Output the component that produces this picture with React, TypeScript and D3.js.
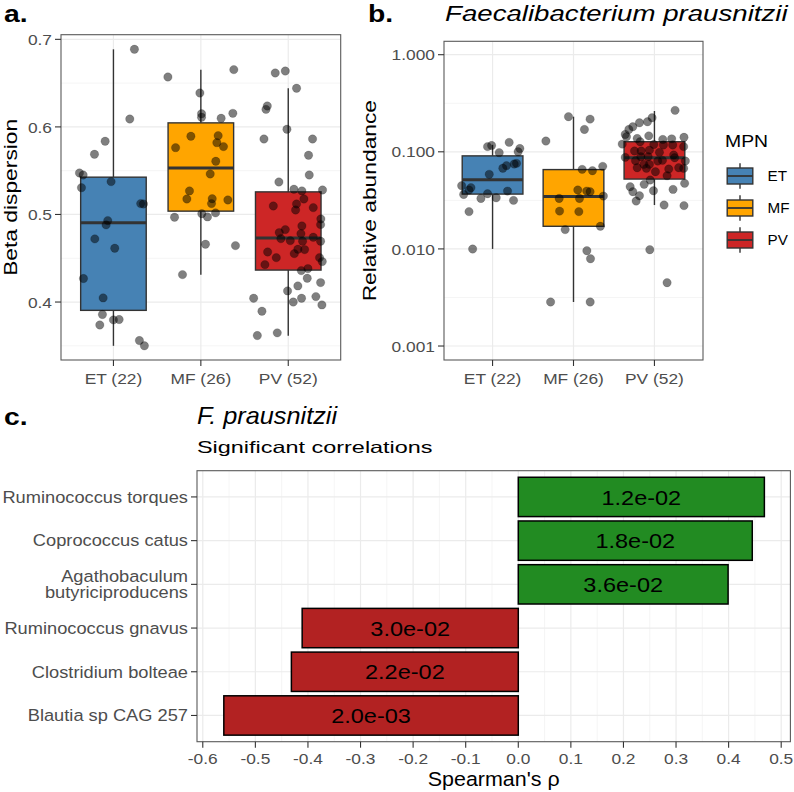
import React from "react";
import * as d3 from "d3";

// ---------- data ----------
const groups = ["ET", "MF", "PV"];
const groupLabels = ["ET (22)", "MF (26)", "PV (52)"];
const groupColors = ["#4682B4", "#FFA500", "#CD2626"];

// panel a: beta dispersion box stats [low, q1, median, q3, high]
const betaStats = [
  [0.35, 0.3905, 0.4904, 0.5426, 0.6886],
  [0.4313, 0.5038, 0.5532, 0.6046, 0.6654],
  [0.3615, 0.4365, 0.473, 0.5258, 0.6441],
];
// points: [jitter (category units), value]
const betaET = [
  [0.24, 0.6886], [0.187, 0.609], [-0.095, 0.5836], [-0.217, 0.5687], [-0.389, 0.5474], [-0.347, 0.5451],
  [-0.366, 0.5306], [-0.027, 0.5375], [0.312, 0.5124], [0.343, 0.512], [-0.065, 0.493], [-0.084, 0.4881],
  [-0.213, 0.4721], [0.015, 0.4614], [-0.343, 0.4268], [-0.118, 0.4047], [-0.126, 0.3857], [-0.156, 0.3738],
  [0, 0.3796], [0.065, 0.38], [0.297, 0.356], [0.354, 0.35],
];
const betaMF = [
  [-0.377, 0.657], [0.377, 0.6654], [-0.011, 0.6387], [0.008, 0.615], [0.008, 0.611], [0.232, 0.6098],
  [0.366, 0.6155], [-0.289, 0.5763], [-0.114, 0.5893], [0.198, 0.59], [0.183, 0.582], [0.259, 0.5775],
  [0.171, 0.5607], [0.107, 0.5463], [-0.13, 0.5269], [-0.16, 0.5177], [0.13, 0.518], [0.122, 0.5124],
  [0.309, 0.5166], [-0.301, 0.4968], [0.011, 0.5009], [0.076, 0.4972], [0.168, 0.5018], [0.053, 0.466],
  [0.396, 0.4644], [-0.21, 0.4313],
];
const betaPV = [
  [-0.149, 0.6616], [-0.034, 0.6638], [0.095, 0.6441], [-0.24, 0.6239], [-0.255, 0.62], [-0.015, 0.5973],
  [-0.278, 0.5862], [0.278, 0.5862], [0.232, 0.5676], [0.24, 0.5451], [-0.107, 0.5371], [0.065, 0.5288],
  [0.156, 0.5269], [0.392, 0.528], [-0.171, 0.5097], [0.095, 0.512], [0.179, 0.5177], [0.084, 0.5051],
  [0.286, 0.5078], [0.373, 0.4949], [0.37, 0.4884], [0.156, 0.4869], [-0.034, 0.4827], [-0.103, 0.4793],
  [0.145, 0.4781], [-0.084, 0.4724], [0.023, 0.4701], [0.164, 0.4694], [0.286, 0.474], [0.37, 0.4694],
  [0.11, 0.4603], [0.187, 0.4599], [-0.236, 0.4572], [0.069, 0.4553], [-0.137, 0.4507], [0.358, 0.4507],
  [-0.267, 0.4427], [0.389, 0.4462], [0.225, 0.4382], [0.149, 0.4359], [0.217, 0.4271], [0.37, 0.4222],
  [0.11, 0.4184], [-0.008, 0.4127], [-0.396, 0.4043], [0.057, 0.4], [0.152, 0.4043], [0.316, 0.4062],
  [0.385, 0.3967], [-0.301, 0.3895], [-0.354, 0.3617], [-0.126, 0.3648],
];
const betaTicks = [0.4, 0.5, 0.6, 0.7];
const betaMinor = [0.35, 0.45, 0.55, 0.65];

// panel b: relative abundance (log scale)
const abundStats = [
  [0.01, 0.0367, 0.0514, 0.0908, 0.118],
  [0.00284, 0.0171, 0.0346, 0.0656, 0.23],
  [0.0283, 0.0524, 0.0869, 0.127, 0.263],
];
const abundET = [
  [-0.062, 0.113], [-0.012, 0.116], [0.205, 0.125], [0.082, 0.098], [0.337, 0.108], [0.316, 0.1],
  [0.296, 0.076], [0.267, 0.0748], [0.172, 0.072], [0.127, 0.0676], [-0.041, 0.0586], [-0.382, 0.0448],
  [-0.267, 0.0427], [-0.291, 0.0404], [-0.357, 0.0364], [-0.062, 0.037], [0.185, 0.0394], [-0.144, 0.0331],
  [0.045, 0.0336], [0.259, 0.0316], [-0.291, 0.0242], [-0.246, 0.00997],
];
const abundMF = [
  [-0.062, 0.23], [0.205, 0.217], [0.135, 0.17], [-0.341, 0.129], [0.361, 0.0708], [0.107, 0.0659],
  [0.234, 0.0639], [0.053, 0.0404], [0.164, 0.0394], [0.205, 0.0388], [-0.177, 0.0331], [0.074, 0.0331],
  [0.369, 0.035], [-0.172, 0.0245], [0.066, 0.0242], [0.332, 0.0171], [-0.103, 0.0158], [0.165, 0.00958],
  [0.21, 0.00792], [-0.283, 0.00284], [0.206, 0.00284],
];
const abundPV = [
  [0.255, 0.267], [-0.029, 0.224], [-0.086, 0.204], [-0.185, 0.199], [-0.267, 0.181], [-0.316, 0.17],
  [-0.361, 0.151], [-0.345, 0.143], [-0.213, 0.137], [-0.07, 0.146], [0.103, 0.134], [0.213, 0.136],
  [0.365, 0.141], [-0.398, 0.12], [-0.177, 0.127], [-0.008, 0.119], [0.111, 0.1175], [0.226, 0.1175],
  [0.361, 0.113], [-0.246, 0.102], [-0.164, 0.102], [-0.062, 0.104], [0.062, 0.0987], [0.238, 0.0926],
  [-0.168, 0.089], [-0.078, 0.089], [0.25, 0.0868], [-0.361, 0.0876], [-0.234, 0.081], [0.099, 0.0816],
  [0.382, 0.0804], [-0.131, 0.0742], [-0.062, 0.0742], [0.041, 0.0803], [-0.213, 0.0686], [-0.099, 0.0675],
  [0.177, 0.0664], [0.3, 0.0686], [0.361, 0.0675], [0.012, 0.0624], [0.156, 0.0567], [-0.053, 0.0512],
  [0.373, 0.0473], [-0.127, 0.0462], [-0.3, 0.0437], [-0.012, 0.0397], [-0.267, 0.0388], [0.23, 0.041],
  [-0.185, 0.0353], [-0.226, 0.0311], [0.119, 0.0283], [0.365, 0.0279], [-0.057, 0.00982], [0.156, 0.00449],
];
const abundTicks = [0.001, 0.01, 0.1, 1];
const abundTickLabels = ["0.001", "0.010", "0.100", "1.000"];
const abundMinor = [0.001 * Math.sqrt(10), 0.01 * Math.sqrt(10), 0.1 * Math.sqrt(10)];

// panel c: correlations
const taxa = [
  "Ruminococcus torques",
  "Coprococcus catus",
  "Agathobaculum\nbutyriciproducens",
  "Ruminococcus gnavus",
  "Clostridium bolteae",
  "Blautia sp CAG 257",
];
const rho = [0.468, 0.445, 0.399, -0.411, -0.4315, -0.56];
const pLabels = ["1.2e-02", "1.8e-02", "3.6e-02", "3.0e-02", "2.2e-02", "2.0e-03"];
const rhoTicks = [-0.6, -0.5, -0.4, -0.3, -0.2, -0.1, 0, 0.1, 0.2, 0.3, 0.4, 0.5];

// ---------- styling ----------
const FONT = "'Liberation Sans', Arial, Helvetica, sans-serif";
const GRID = "#EBEBEB";
const GRID_MINOR = "#F3F3F3";
const BORDER = "#5a5a5a";
const INK = "#333333";
const TICK_TXT = "#4D4D4D";

function T({ x, y, sx = 1, rot = 0, anchor = "start", size, weight = "normal", italic = false, fill = "#000", children }: any) {
  return (
    <text
      transform={`translate(${x},${y}) rotate(${rot}) scale(${sx},1)`}
      textAnchor={anchor}
      fontSize={size}
      fontWeight={weight}
      fontStyle={italic ? "italic" : "normal"}
      fontFamily={FONT}
      fill={fill}
    >
      {children}
    </text>
  );
}

function BoxPanel({ area, yScale, stats, points, ticks, tickLabels, minor, title }: any) {
  const x = d3.scalePoint().domain(groups).range([area.left, area.right]).padding(0.6);
  const step = x.step();
  const bw = step * 0.75;
  return (
    <g>
      <rect x={area.left} y={area.top} width={area.right - area.left} height={area.bottom - area.top} fill="#fff" />
      {minor.map((v: number, i: number) => (
        <line key={"mn" + i} x1={area.left} x2={area.right} y1={yScale(v)} y2={yScale(v)} stroke={GRID_MINOR} strokeWidth={0.8} />
      ))}
      {ticks.map((v: number, i: number) => (
        <line key={"mj" + i} x1={area.left} x2={area.right} y1={yScale(v)} y2={yScale(v)} stroke={GRID} strokeWidth={1.2} />
      ))}
      {groups.map((g) => (
        <line key={"vg" + g} x1={x(g)} x2={x(g)} y1={area.top} y2={area.bottom} stroke={GRID} strokeWidth={1.2} />
      ))}
      {groups.map((g, i) => {
        const [lo, q1, med, q3, hi] = stats[i];
        const cx = x(g) as number;
        return (
          <g key={"box" + g}>
            <line x1={cx} x2={cx} y1={yScale(hi)} y2={yScale(q3)} stroke={INK} strokeWidth={1.4} />
            <line x1={cx} x2={cx} y1={yScale(q1)} y2={yScale(lo)} stroke={INK} strokeWidth={1.4} />
            <rect x={cx - bw / 2} y={yScale(q3)} width={bw} height={yScale(q1) - yScale(q3)} fill={groupColors[i]} stroke={INK} strokeWidth={1.4} />
            <line x1={cx - bw / 2} x2={cx + bw / 2} y1={yScale(med)} y2={yScale(med)} stroke={INK} strokeWidth={3} />
          </g>
        );
      })}
      {groups.map((g, i) =>
        points[i].map((p: number[], j: number) => (
          <circle
            key={g + j}
            cx={(x(g) as number) + p[0] * step}
            cy={yScale(p[1])}
            r={4.2}
            fill="#000"
            fillOpacity={0.5}
            stroke="#000"
            strokeOpacity={0.2}
            strokeWidth={0.8}
          />
        ))
      )}
      <rect x={area.left} y={area.top} width={area.right - area.left} height={area.bottom - area.top} fill="none" stroke={BORDER} strokeWidth={1.1} />
      {ticks.map((v: number, i: number) => (
        <g key={"yt" + i}>
          <line x1={area.left - 6} x2={area.left} y1={yScale(v)} y2={yScale(v)} stroke={INK} strokeWidth={1.1} />
          <T x={area.left - 9} y={yScale(v) + 5.6} anchor="end" size={15.5} sx={1.12} fill={TICK_TXT}>
            {tickLabels[i]}
          </T>
        </g>
      ))}
      {groups.map((g, i) => (
        <g key={"xt" + g}>
          <line x1={x(g)} x2={x(g)} y1={area.bottom} y2={area.bottom + 6} stroke={INK} strokeWidth={1.1} />
          <T x={x(g)} y={area.bottom + 24} anchor="middle" size={15.5} sx={1.12} fill={TICK_TXT}>
            {groupLabels[i]}
          </T>
        </g>
      ))}
      <T x={area.titleX} y={(area.top + area.bottom) / 2} rot={-90} anchor="middle" size={19} sx={1.2}>
        {title}
      </T>
    </g>
  );
}

export default function App() {
  const A = { left: 61, right: 340.7, top: 34.7, bottom: 360, titleX: 16.5 };
  const B = { left: 444, right: 703, top: 41.3, bottom: 360, titleX: 376 };
  const C = { left: 197, right: 790.4, top: 470.7, bottom: 741.7 };

  const yA = d3.scaleLinear().domain([0.3338, 0.7053]).range([A.bottom, A.top]);
  const yB = d3.scaleLog().domain([Math.pow(10, -3.144), Math.pow(10, 0.138)]).range([B.bottom, B.top]);

  const xC = d3.scaleLinear().domain([-0.611, 0.5175]).range([C.left, C.right]);
  const yC = d3.scalePoint().domain(taxa).range([C.top, C.bottom]).padding(0.6);
  const barH = yC.step() * 0.9;
  const minorC = d3.range(-0.55, 0.52, 0.1);

  const legendKeys = groups.map((g, i) => ({ g, i }));

  return (
    <svg width={794} height={792} style={{ position: "absolute", left: 0, top: 0, background: "#fff" }}>
      <rect width={794} height={792} fill="#fff" />
      {/* panel a */}
      <T x={4} y={22} size={24} weight="bold" sx={1.18}>a.</T>
      <BoxPanel
        area={A}
        yScale={yA}
        stats={betaStats}
        points={[betaET, betaMF, betaPV]}
        ticks={betaTicks}
        tickLabels={betaTicks.map((v) => d3.format(".1f")(v))}
        minor={betaMinor}
        title="Beta dispersion"
      />
      {/* panel b */}
      <T x={368} y={22} size={24} weight="bold" sx={1.18}>b.</T>
      <T x={445} y={21} size={22.3} italic sx={1.24}>Faecalibacterium prausnitzii</T>
      <BoxPanel
        area={B}
        yScale={yB}
        stats={abundStats}
        points={[abundET, abundMF, abundPV]}
        ticks={abundTicks}
        tickLabels={abundTickLabels}
        minor={abundMinor}
        title="Relative abundance"
      />
      {/* legend */}
      <T x={725} y={147} size={17} sx={1.14}>MPN</T>
      {legendKeys.map(({ g, i }) => {
        const top = 160 + i * 32;
        const cx = 740;
        return (
          <g key={"lg" + g}>
            <line x1={cx} x2={cx} y1={top + 3.2} y2={top + 28.8} stroke={INK} strokeWidth={1.4} />
            <rect x={727.2} y={top + 8} width={25.6} height={16} fill={groupColors[i]} stroke={INK} strokeWidth={1.4} />
            <line x1={727.2} x2={752.8} y1={top + 16} y2={top + 16} stroke={INK} strokeWidth={1.8} />
            <T x={767.5} y={top + 21.2} size={14.5} sx={1.05}>{g}</T>
          </g>
        );
      })}

      {/* panel c */}
      <T x={4} y={425} size={24} weight="bold" sx={1.18}>c.</T>
      <T x={197} y={423.5} size={23} italic sx={1.1}>F. prausnitzii</T>
      <T x={197} y={453} size={16.5} sx={1.42}>Significant correlations</T>
      <rect x={C.left} y={C.top} width={C.right - C.left} height={C.bottom - C.top} fill="#fff" />
      {minorC.map((v, i) => (
        <line key={"cm" + i} x1={xC(v)} x2={xC(v)} y1={C.top} y2={C.bottom} stroke={GRID_MINOR} strokeWidth={0.8} />
      ))}
      {rhoTicks.map((v, i) => (
        <line key={"cM" + i} x1={xC(v)} x2={xC(v)} y1={C.top} y2={C.bottom} stroke={GRID} strokeWidth={1.2} />
      ))}
      {taxa.map((t) => (
        <line key={"ch" + t} x1={C.left} x2={C.right} y1={yC(t)} y2={yC(t)} stroke={GRID} strokeWidth={1.2} />
      ))}
      {taxa.map((t, i) => {
        const v = rho[i];
        const x0 = xC(Math.min(0, v));
        const x1 = xC(Math.max(0, v));
        const cy = yC(t) as number;
        return (
          <g key={"bar" + i}>
            <rect x={x0} y={cy - barH / 2} width={x1 - x0} height={barH} fill={v > 0 ? "#228B22" : "#B22222"} stroke="#000" strokeWidth={1.5} />
            <T x={xC(v / 2)} y={cy + 7.6} anchor="middle" size={21} sx={1.12}>{pLabels[i]}</T>
          </g>
        );
      })}
      <rect x={C.left} y={C.top} width={C.right - C.left} height={C.bottom - C.top} fill="none" stroke={BORDER} strokeWidth={1.1} />
      {rhoTicks.map((v, i) => (
        <g key={"ct" + i}>
          <line x1={xC(v)} x2={xC(v)} y1={C.bottom} y2={C.bottom + 6} stroke={INK} strokeWidth={1.1} />
          <T x={xC(v)} y={C.bottom + 22} anchor="middle" size={15.5} sx={1.12} fill={TICK_TXT}>
            {d3.format(".1f")(v).replace("−", "-")}
          </T>
        </g>
      ))}
      {taxa.map((t, i) => {
        const cy = yC(t) as number;
        const lines = t.split("\n");
        return (
          <g key={"cl" + i}>
            <line x1={C.left - 6} x2={C.left} y1={cy} y2={cy} stroke={INK} strokeWidth={1.1} />
            {lines.map((ln, k) => (
              <T key={k} x={C.left - 9} y={cy + 5.8 + (k - (lines.length - 1) / 2) * 16.7} anchor="end" size={16.3} sx={1.12} fill={TICK_TXT}>
                {ln}
              </T>
            ))}
          </g>
        );
      })}
      <T x={(C.left + C.right) / 2} y={786} anchor="middle" size={19.5} sx={1.1}>Spearman's ρ</T>
    </svg>
  );
}
